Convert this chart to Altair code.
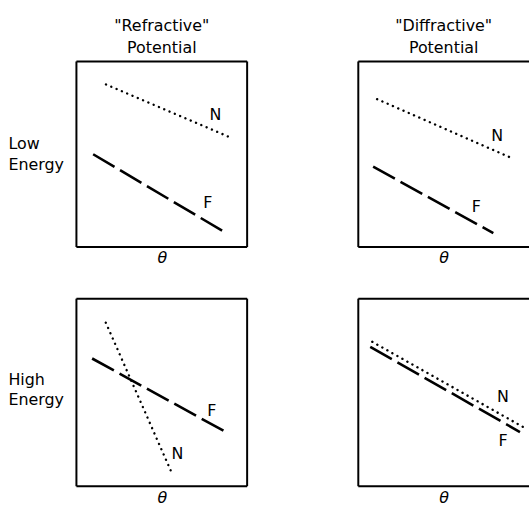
import altair as alt
import pandas as pd

FONT = "DejaVu Sans"

# Column titles and row labels
col_titles = [['"Refractive"', "Potential"], ['"Diffractive"', "Potential"]]
row_labels = [["Low", "Energy"], ["High", "Energy"]]
axis_label = "θ"

# Schematic curves, each panel in its own 0-100 units: [start, end]
# order of panels: low/refractive, low/diffractive, high/refractive, high/diffractive
N_x = [[17.3, 91.3], [11.0, 90.7], [17.2, 55.7], [8.2, 96.5]]
N_y = [[87.6, 58.6], [79.7, 47.6], [87.2, 7.4], [77.0, 31.6]]
F_x = [[9.8, 86.7], [8.7, 79.1], [9.2, 87.9], [7.0, 94.7]]
F_y = [[50.0, 8.1], [43.3, 7.5], [68.1, 28.7], [74.3, 28.9]]

# Curve label positions [x, y] per panel
N_lab = [[81.5, 71.0], [81.4, 59.9], [59.2, 17.0], [84.8, 47.6]]
F_lab = [[76.9, 23.7], [69.2, 21.4], [79.3, 39.9], [84.8, 24.1]]

W = 172
HEIGHTS = [187, 189]
ROW_LABEL_Y = [83, 81]


def panel(i, row, col):
    h = HEIGHTS[row]
    sx = alt.Scale(domain=[0, 100])
    sy = alt.Scale(domain=[0, 100])
    xax = alt.Axis(title=axis_label, labels=False, ticks=False, domain=False,
                   grid=False, titleFontStyle="italic", titlePadding=3)
    if col == 0:
        yax = alt.Axis(title=row_labels[row], labels=False, ticks=False,
                       domain=False, grid=False, titleAngle=0, titleAlign="left",
                       titleBaseline="middle", titleX=-69, titleY=ROW_LABEL_Y[row],
                       titleLineHeight=21)
    else:
        yax = None

    n_df = pd.DataFrame({"x": N_x[i], "y": N_y[i]})
    f_df = pd.DataFrame({"x": F_x[i], "y": F_y[i]})
    lab_df = pd.DataFrame({"x": [N_lab[i][0], F_lab[i][0]],
                           "y": [N_lab[i][1], F_lab[i][1]],
                           "t": ["N", "F"]})
    edges = {"x": [0, 0, 0], "x2": [100, 100, 0], "y": [0, 100, 0], "y2": [0, 100, 100]}
    if col == 0:
        edges["x"].append(100); edges["x2"].append(100)
        edges["y"].append(0); edges["y2"].append(100)
    e_df = pd.DataFrame(edges)

    border = alt.Chart(e_df).mark_rule(color="black", strokeWidth=2).encode(
        x=alt.X("x:Q", scale=sx, axis=xax), x2="x2:Q",
        y=alt.Y("y:Q", scale=sy, axis=yax), y2="y2:Q")
    n_line = alt.Chart(n_df).mark_line(color="black", strokeWidth=2.4,
                                       strokeDash=[0.1, 5.7], strokeCap="round").encode(
        x="x:Q", y="y:Q")
    f_line = alt.Chart(f_df).mark_line(color="black", strokeWidth=2.6,
                                       strokeDash=[25, 6.5]).encode(x="x:Q", y="y:Q")
    labels = alt.Chart(lab_df).mark_text(font=FONT, fontSize=16, color="black").encode(
        x="x:Q", y="y:Q", text="t:N")
    layer = alt.layer(border, n_line, f_line, labels).properties(width=W, height=h)
    if row == 0:
        layer = layer.properties(title=alt.Title(col_titles[col]))
    return layer


top = alt.hconcat(panel(0, 0, 0), panel(1, 0, 1), spacing=110)
bottom = alt.hconcat(panel(2, 1, 0), panel(3, 1, 1), spacing=110)

chart = alt.vconcat(top, bottom, spacing=32).properties(
    padding={"left": 8, "top": 16, "right": 0, "bottom": 0},
    background="white"
).configure_view(stroke=None).configure_axis(
    titleFont=FONT, titleFontSize=16, titleColor="black", titleFontWeight="normal"
).configure_title(
    font=FONT, fontSize=16, fontWeight="normal", color="black", lineHeight=23, offset=4
)

chart.save("out.html", embed_options={"renderer": "svg", "actions": False})
